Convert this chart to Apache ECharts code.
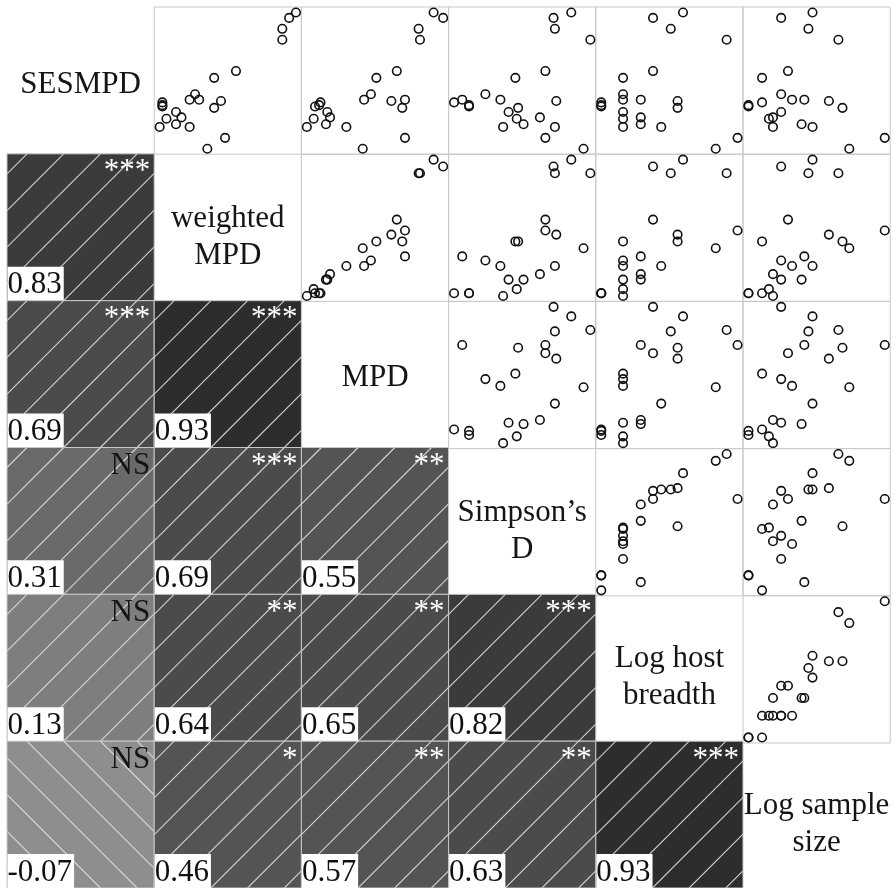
<!DOCTYPE html>
<html>
<head>
<meta charset="utf-8">
<script src="https://cdn.jsdelivr.net/npm/echarts@6/dist/echarts.min.js"></script>
<style>
  html, body { margin: 0; padding: 0; background: #fff; }
  #chart { width: 895px; height: 888px; }
</style>
</head>
<body>
<div id="chart"></div>
<script>
// Diagonal labels
const varNames = ["SESMPD", "weighted\nMPD", "MPD", "Simpson\u2019s\nD", "Log host\nbreadth", "Log sample\nsize"];

const sesmpd = [1.00, 0.96, 0.88, 0.80, 0.57, 0.52, 0.40, 0.36, 0.36, 0.35, 0.34, 0.32, 0.31, 0.30, 0.27, 0.23, 0.22, 0.18, 0.16, 0.16, 0.08, 0.00];
const weightedMpd = [1.00, 0.95, 0.90, 0.90, 0.56, 0.40, 0.26, 0.29, 0.22, 0.45, 0.02, 0.02, 0.02, 0.40, 0.12, 0.16, 0.05, 0.12, 0.00, 0.22, 0.48, 0.35];
const mpd = [0.93, 1.00, 0.82, 0.83, 0.66, 0.51, 0.47, 0.72, 0.42, 0.62, 0.10, 0.09, 0.06, 0.70, 0.15, 0.17, 0.05, 0.14, 0.00, 0.29, 0.72, 0.41];
const simpsonD = [0.86, 0.73, 0.74, 1.00, 0.67, 0.45, 0.23, 0.06, 0.34, 0.75, 0.00, 0.11, 0.11, 0.47, 0.40, 0.63, 0.46, 0.51, 0.36, 0.74, 0.67, 0.95];
const logHostBreadth = [0.60, 0.38, 0.51, 0.92, 0.38, 0.16, 0.16, 0.29, 0.16, 0.56, 0.00, 0.00, 0.00, 0.56, 0.16, 0.29, 0.16, 0.29, 0.16, 0.44, 1.00, 0.84];
const logSampleSize = [0.47, 0.24, 0.44, 0.66, 0.29, 0.10, 0.24, 0.41, 0.32, 0.59, 0.10, 0.00, 0.00, 0.69, 0.24, 0.18, 0.15, 0.39, 0.18, 0.47, 1.00, 0.74];

// Lower triangle: correlation and significance, row by row (rows 2..6)
const corrRows = [
    [0.83],
    [0.69, 0.93],
    [0.31, 0.69, 0.55],
    [0.13, 0.64, 0.65, 0.82],
    [-0.07, 0.46, 0.57, 0.63, 0.93]
];
const starRows = [
    ["***"],
    ["***", "***"],
    ["NS", "***", "**"],
    ["NS", "**", "**", "***"],
    ["NS", "*", "**", "**", "***"]
];

const variables = [sesmpd, weightedMpd, mpd, simpsonD, logHostBreadth, logSampleSize];
const n = variables.length;

// Layout
const X0 = 7, Y0 = 7, CELL = 147.2;
const FONT = '31px "Liberation Serif", "DejaVu Serif", serif';

// 14 shade bins over -1..1 (corrgram style)
const shadeGrays = ["#2d2d2d", "#3b3b3b", "#4b4b4b", "#545454", "#6a6a6a", "#727272", "#8e8e8e",
                    "#7e7e7e", "#747474", "#6a6a6a", "#545454", "#4b4b4b", "#3b3b3b", "#2d2d2d"];
function shadeColor(r) {
    const bin = Math.max(0, Math.min(13, Math.floor((r + 1) / (2 / 14))));
    return shadeGrays[bin];
}

// Lower triangle cells
const shadeCells = [];
corrRows.forEach(function (vals, k) {
    vals.forEach(function (r, c) {
        shadeCells.push({ col: c, row: k + 1, r: r, stars: starRows[k][c] });
    });
});

function renderShade(params, api) {
    const cell = shadeCells[params.dataIndex];
    const p = api.coord([cell.col, cell.row]);
    const s = api.size([1, 1]);
    const w = s[0], h = s[1];
    const x = p[0] - w / 2, y = p[1] - h / 2;
    const children = [{ type: "rect", shape: { x: x, y: y, width: w, height: h }, style: { fill: shadeColor(cell.r) } }];

    // hatch lines, 45 deg for positive, 135 deg for negative
    const step = 36.7, phase = 20;
    const lineStyle = { stroke: "rgba(225,225,225,0.9)", lineWidth: 1.1 };
    if (cell.r > 0) {
        for (let C = phase; C < w + h; C += step) {
            const x1 = Math.max(0, C - h), x2 = Math.min(w, C);
            if (x2 <= x1) continue;
            children.push({ type: "line", shape: { x1: x + x1, y1: y + C - x1, x2: x + x2, y2: y + C - x2 }, style: lineStyle });
        }
    } else {
        for (let C = -h + phase; C < w; C += step) {
            const x1 = Math.max(0, C), x2 = Math.min(w, C + h);
            if (x2 <= x1) continue;
            children.push({ type: "line", shape: { x1: x + x1, y1: y + x1 - C, x2: x + x2, y2: y + x2 - C }, style: lineStyle });
        }
    }
    children.push({ type: "rect", shape: { x: x, y: y, width: w, height: h }, style: { fill: null, stroke: "#c8c8c8", lineWidth: 1 } });

    // correlation value, bottom left on white
    children.push({
        type: "text", x: x + 0.5, y: y + h,
        style: { text: cell.r.toFixed(2), font: FONT, fill: "#111", align: "left", verticalAlign: "bottom",
                 backgroundColor: "#fff", padding: [3, 2, 0, 0] }
    });
    // significance, top right
    children.push({
        type: "text", x: x + w - 4, y: y + 3,
        style: { text: cell.stars, font: FONT, fill: cell.stars === "NS" ? "#151515" : "#fff",
                 align: "right", verticalAlign: "top" }
    });
    return { type: "group", children: children };
}

function renderLabel(params, api) {
    const i = params.dataIndex;
    const p = api.coord([i, i]);
    const twoLines = varNames[i].indexOf("\n") >= 0;
    return {
        type: "text", x: p[0], y: p[1] + (twoLines ? 10 : 4),
        style: { text: varNames[i], font: FONT, lineHeight: 37, fill: "#151515", align: "center", verticalAlign: "middle" }
    };
}

// Grids: index 0 covers the whole matrix, then one grid per scatter panel
const grids = [{ left: X0, top: Y0, width: CELL * n, height: CELL * n }];
const xAxes = [{ gridIndex: 0, type: "category", data: varNames.map(function (v, i) { return i; }), show: false }];
const yAxes = [{ gridIndex: 0, type: "category", data: varNames.map(function (v, i) { return i; }), inverse: true, show: false }];
const series = [
    {
        type: "custom", xAxisIndex: 0, yAxisIndex: 0, silent: true,
        data: shadeCells.map(function (c) { return [c.col, c.row, c.r]; }),
        renderItem: renderShade
    },
    {
        type: "custom", xAxisIndex: 0, yAxisIndex: 0, silent: true,
        data: varNames.map(function (v, i) { return [i, i]; }),
        renderItem: renderLabel
    }
];

for (let i = 0; i < n; i++) {
    for (let j = i + 1; j < n; j++) {
        const g = grids.length;
        grids.push({
            left: X0 + j * CELL, top: Y0 + i * CELL, width: CELL, height: CELL,
            show: true, borderColor: "#c8c8c8", borderWidth: 1, backgroundColor: "transparent"
        });
        xAxes.push({ gridIndex: g, type: "value", min: -0.04, max: 1.04, show: false });
        yAxes.push({ gridIndex: g, type: "value", min: -0.04, max: 1.04, show: false });
        series.push({
            type: "scatter", xAxisIndex: g, yAxisIndex: g, silent: true,
            symbol: "circle", symbolSize: 8.5,
            itemStyle: { color: "rgba(0,0,0,0)", borderColor: "#111", borderWidth: 1.6, opacity: 1 },
            data: variables[j].map(function (v, k) { return [v, variables[i][k]]; })
        });
    }
}

const chart = echarts.init(document.getElementById("chart"), null, { renderer: "canvas" });
chart.setOption({
    animation: false,
    backgroundColor: "#fff",
    grid: grids,
    xAxis: xAxes,
    yAxis: yAxes,
    series: series
});
</script>
</body>
</html>
